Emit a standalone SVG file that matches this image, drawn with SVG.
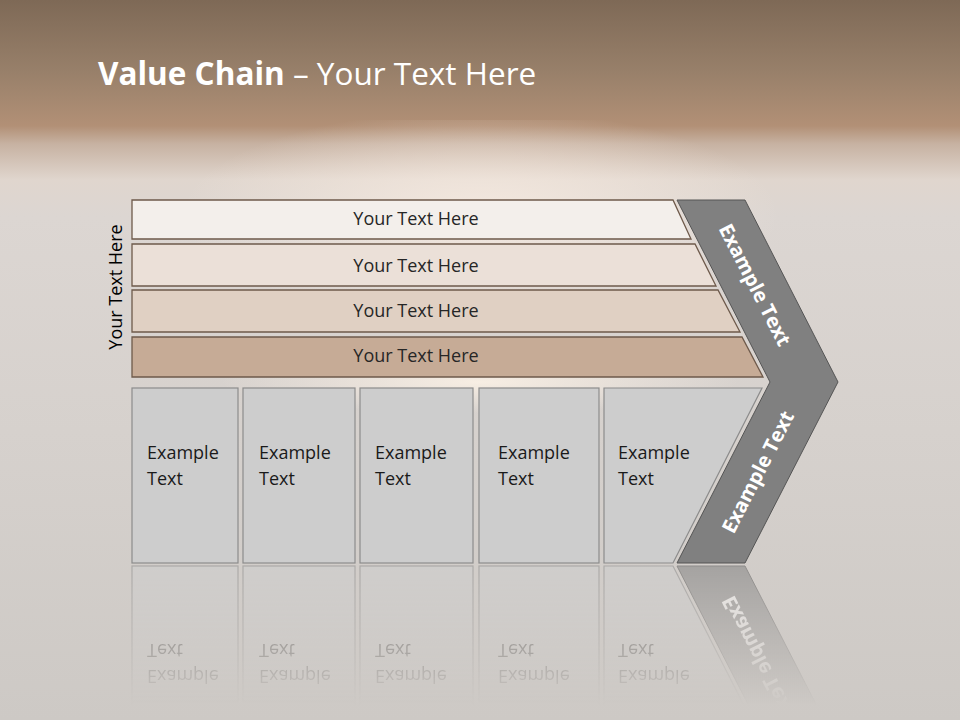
<svg xmlns="http://www.w3.org/2000/svg" width="960" height="720" viewBox="0 0 960 720">
<defs>
<linearGradient id="bg" x1="0" y1="0" x2="0" y2="1">
<stop offset="0" stop-color="#7e6956"/>
<stop offset="0.1" stop-color="#98806a"/>
<stop offset="0.175" stop-color="#b29076"/>
<stop offset="0.2" stop-color="#c7b2a2"/>
<stop offset="0.25" stop-color="#e0d6ce"/>
<stop offset="0.3" stop-color="#dcd6d2"/>
<stop offset="0.6" stop-color="#d6d1cd"/>
<stop offset="1" stop-color="#cdc9c5"/>
</linearGradient>
<radialGradient id="glow" cx="480" cy="215" r="300" gradientUnits="userSpaceOnUse" gradientTransform="translate(480 215) scale(1 0.35) translate(-480 -215)">
<stop offset="0" stop-color="#f8ece2" stop-opacity="0.85"/>
<stop offset="1" stop-color="#f8ece2" stop-opacity="0"/>
</radialGradient>
<radialGradient id="glow2" cx="480" cy="382" r="260" gradientUnits="userSpaceOnUse" gradientTransform="translate(480 382) scale(1 0.12) translate(-480 -382)">
<stop offset="0" stop-color="#fbf1e6" stop-opacity="0.9"/>
<stop offset="1" stop-color="#fbf1e6" stop-opacity="0"/>
</radialGradient>
<linearGradient id="fade" gradientUnits="userSpaceOnUse" x1="0" y1="565" x2="0" y2="705">
<stop offset="0" stop-color="#fff" stop-opacity="0.55"/>
<stop offset="1" stop-color="#fff" stop-opacity="0"/>
</linearGradient>
<mask id="refl" maskUnits="userSpaceOnUse" x="0" y="560" width="960" height="160">
<rect x="0" y="560" width="960" height="160" fill="url(#fade)"/>
</mask>
</defs>
<style>
.bar{stroke:#6e5a4b;stroke-width:1.3}
.bt{font-family:"Open Sans","Noto Sans",sans-serif;font-size:18px;fill:#262626;text-anchor:middle}
.box{fill:#cdcdcd;stroke:#8c8c8c;stroke-width:1.2}
.xt{font-family:"Open Sans","Noto Sans",sans-serif;font-size:18px;fill:#1a1a1a}
.chev{fill:#808080;stroke:#555;stroke-width:1}
.ct{font-family:"Open Sans","Noto Sans",sans-serif;font-size:20px;font-weight:bold;fill:#fff;text-anchor:middle}
</style>
<rect x="0" y="0" width="960" height="720" fill="url(#bg)"/>
<rect x="0" y="120" width="960" height="200" fill="url(#glow)"/>
<rect x="0" y="340" width="960" height="80" fill="url(#glow2)"/>

<text x="98" y="85" font-family="'Open Sans','Noto Sans',sans-serif" font-size="31.5" fill="#fff"><tspan font-weight="bold">Value Chain</tspan> – Your Text Here</text>

<g id="side-label">
<text class="bt" transform="translate(122 287) rotate(-90)" x="0" y="0" style="fill:#000">Your Text Here</text>
</g>

<g id="bar1"><polygon class="bar" fill="#f3efeb" points="132,200 673,200 691,239 132,239"/><text class="bt" x="416" y="225">Your Text Here</text></g>
<g id="bar2"><polygon class="bar" fill="#ebe0d8" points="132,244 695,244 716,286 132,286"/><text class="bt" x="416" y="272">Your Text Here</text></g>
<g id="bar3"><polygon class="bar" fill="#e0d0c3" points="132,290 718,290 740,332 132,332"/><text class="bt" x="416" y="317">Your Text Here</text></g>
<g id="bar4"><polygon class="bar" fill="#c6ab96" points="132,337 742,337 763,377 132,377"/><text class="bt" x="416" y="362">Your Text Here</text></g>

<g id="chevron">
<polygon class="chev" points="677,200 745,200 838,382 745,563 677,563 770,382"/>
<text class="ct" transform="translate(755 285) rotate(62.9)" x="0" y="7">Example Text</text>
<text class="ct" transform="translate(758 472) rotate(-62.9)" x="0" y="7">Example Text</text>
</g>

<g id="box1"><rect class="box" x="132" y="388" width="106" height="175"/><text class="xt" x="147" y="459">Example</text><text class="xt" x="147" y="485">Text</text></g>
<g id="box2"><rect class="box" x="243" y="388" width="112" height="175"/><text class="xt" x="259" y="459">Example</text><text class="xt" x="259" y="485">Text</text></g>
<g id="box3"><rect class="box" x="360" y="388" width="113" height="175"/><text class="xt" x="375" y="459">Example</text><text class="xt" x="375" y="485">Text</text></g>
<g id="box4"><rect class="box" x="479" y="388" width="120" height="175"/><text class="xt" x="498" y="459">Example</text><text class="xt" x="498" y="485">Text</text></g>
<g id="box5"><polygon class="box" points="604,388 762,388 673,563 604,563"/><text class="xt" x="618" y="459">Example</text><text class="xt" x="618" y="485">Text</text></g>

<g id="reflection" mask="url(#refl)">
<g transform="translate(0 1129) scale(1 -1)">
<rect class="box" x="132" y="388" width="106" height="175"/><text class="xt" x="147" y="459">Example</text><text class="xt" x="147" y="485">Text</text>
<rect class="box" x="243" y="388" width="112" height="175"/><text class="xt" x="259" y="459">Example</text><text class="xt" x="259" y="485">Text</text>
<rect class="box" x="360" y="388" width="113" height="175"/><text class="xt" x="375" y="459">Example</text><text class="xt" x="375" y="485">Text</text>
<rect class="box" x="479" y="388" width="120" height="175"/><text class="xt" x="498" y="459">Example</text><text class="xt" x="498" y="485">Text</text>
<polygon class="box" points="604,388 762,388 673,563 604,563"/><text class="xt" x="618" y="459">Example</text><text class="xt" x="618" y="485">Text</text>
<polygon class="chev" points="745,563 677,563 770,382 838,382"/>
<text class="ct" transform="translate(758 472) rotate(-62.9)" x="0" y="7">Example Text</text>
</g>
</g>
</svg>
